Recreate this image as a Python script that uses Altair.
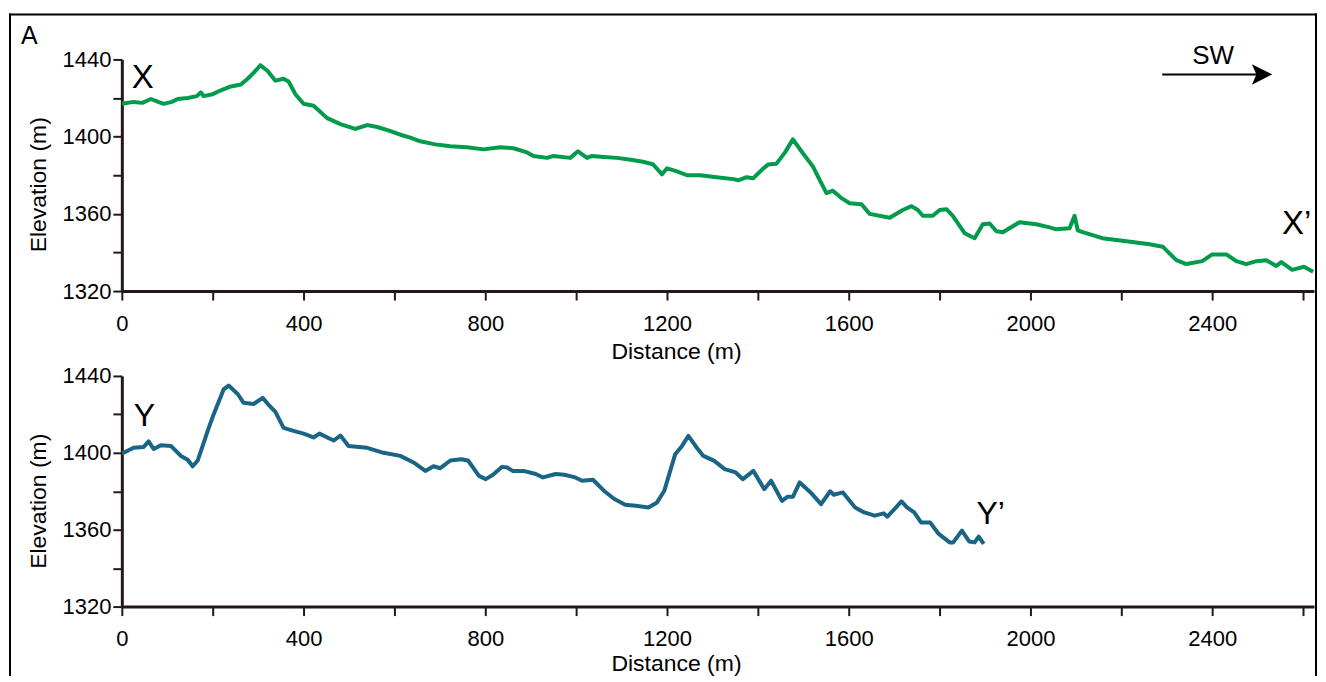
import altair as alt
import pandas as pd

# ---------------- data ----------------
x_dist = [0, 26, 45, 64, 80, 92, 110, 123, 145, 165, 174, 180, 200, 218, 240, 262, 277, 290,
          305, 321, 338, 356, 367, 382, 400, 422, 452, 481, 514, 540, 562, 590, 613, 635, 657,
          690, 723, 760, 796, 833, 862, 890, 906, 936, 950, 987, 1004, 1024, 1035, 1060, 1090,
          1120, 1147, 1169, 1189, 1200, 1222, 1244, 1273, 1309, 1346, 1357, 1375, 1390, 1412,
          1423, 1441, 1460, 1477, 1499, 1521, 1535, 1551, 1565, 1585, 1602, 1628, 1646, 1690,
          1719, 1738, 1752, 1763, 1785, 1800, 1815, 1829, 1855, 1877, 1895, 1910, 1925, 1939,
          1976, 2013, 2042, 2057, 2086, 2097, 2104, 2115, 2158, 2211, 2262, 2291, 2321, 2343,
          2378, 2400, 2431, 2453, 2475, 2497, 2519, 2541, 2552, 2576, 2602, 2622]
x_elev = [1417, 1418, 1417.5, 1419.5, 1418, 1417, 1418, 1419.5, 1420, 1421, 1423, 1421, 1422,
          1424, 1426, 1427, 1430, 1433, 1437, 1434, 1429, 1430, 1428.6, 1422, 1417, 1416, 1409.6,
          1406.5, 1404, 1406, 1405, 1403, 1401, 1399.5, 1397.6, 1396, 1395, 1394.5, 1393.4,
          1394.5, 1394, 1392, 1390, 1389, 1390, 1389, 1392.4, 1389, 1390, 1389.5, 1389, 1388,
          1387, 1385.7, 1380.5, 1383.6, 1382, 1380, 1380, 1379, 1378, 1377.4, 1379, 1378.5,
          1383.6, 1385.6, 1386, 1392, 1398.6, 1391.4, 1384.6, 1378, 1370.7, 1372, 1368, 1365.5,
          1365, 1360, 1358, 1362, 1364, 1362, 1359, 1359, 1362, 1362.4, 1359, 1350, 1347.4,
          1354.6, 1355, 1351, 1350.5, 1355.7, 1354.6, 1353, 1352, 1352.6, 1359, 1351.5, 1350.5,
          1347.4, 1345.8, 1344.3, 1343, 1336, 1334, 1335.5, 1339, 1339, 1335.5, 1334, 1335.5,
          1336, 1333, 1335, 1331, 1332.6, 1330]

y_dist = [0, 4, 26, 48, 59, 70, 86, 108, 130, 145, 156, 167, 189, 202, 224, 235, 255, 268, 290,
          310, 321, 338, 356, 378, 400, 422, 435, 466, 481, 499, 540, 576, 613, 642, 668, 686,
          701, 723, 747, 762, 786, 801, 817, 837, 848, 860, 884, 911, 927, 955, 974, 998, 1013,
          1037, 1061, 1084, 1108, 1131, 1159, 1178, 1194, 1218, 1233, 1247, 1265, 1280, 1304,
          1327, 1351, 1367, 1390, 1414, 1429, 1453, 1465, 1477, 1492, 1516, 1539, 1559, 1567,
          1587, 1614, 1634, 1657, 1677, 1685, 1704, 1716, 1728, 1744, 1759, 1779, 1798, 1822,
          1830, 1849, 1865, 1877, 1886, 1897]
y_elev = [1400, 1400, 1402.6, 1403, 1406, 1402, 1404, 1403.6, 1398.4, 1396.4, 1393, 1396, 1411.4,
          1420, 1433, 1435, 1430.6, 1426, 1425.4, 1428.6, 1425.5, 1421.3, 1413, 1411.4, 1410,
          1408, 1410, 1406.4, 1409, 1403.6, 1402.6, 1400, 1398.4, 1395, 1390.6, 1393, 1392, 1396,
          1396.7, 1396, 1388, 1386.3, 1388.6, 1392.7, 1392.4, 1390.6, 1390.6, 1389, 1387.2, 1389,
          1388.6, 1387.2, 1385.5, 1386, 1380.3, 1376, 1373, 1372.5, 1371.6, 1374.2, 1380.3,
          1399.3, 1403.6, 1408.8, 1402.8, 1398.4, 1395.8, 1391.5, 1389.8, 1386.3, 1390.6, 1381.1,
          1385.5, 1375, 1377.1, 1377.1, 1384.6, 1379.4, 1373.3, 1380, 1378.2, 1379.4, 1371.6,
          1369, 1367.3, 1368.5, 1366.8, 1371.6, 1374.7, 1371.6, 1369, 1363.8, 1363.8, 1357.8,
          1353.4, 1353.4, 1359.5, 1353.9, 1353.4, 1356.4, 1352.6]

x_ticks = [0, 200, 400, 600, 800, 1000, 1200, 1400, 1600, 1800, 2000, 2200, 2400, 2600]
y_ticks = [1320, 1340, 1360, 1380, 1400, 1420, 1440]
x_domain = [0, 2624]
y_domain = [1320, 1440]

# ---------------- styles ----------------
FONT = "Liberation Sans"
AXIS_COLOR = "#231815"
GREEN = "#009b4b"
BLUE = "#1a6485"
W = 1194


def x_enc(title_y):
    return alt.X(
        "distance:Q",
        scale=alt.Scale(domain=x_domain, nice=False, zero=False),
        axis=alt.Axis(
            values=x_ticks, format="d",
            labelExpr="datum.value % 400 === 0 ? datum.label : ''",
            title="Distance (m)", titleX=555, titleY=title_y,
            titleBaseline="middle", titleAlign="center",
            labelPadding=13,
        ),
    )


def y_enc():
    return alt.Y(
        "elevation:Q",
        scale=alt.Scale(domain=y_domain, nice=False, zero=False),
        axis=alt.Axis(
            values=y_ticks, format="d",
            labelExpr="datum.value % 40 === 0 ? datum.label : ''",
            title="Elevation (m)", titleX=-83, titleY=125,
            titleBaseline="middle", titleAlign="center", titleAngle=270,
            labelPadding=2,
        ),
    )


one = alt.Data(values=[{}])


def label(text, x, y, size):
    return alt.Chart(one).mark_text(
        text=text, font=FONT, fontSize=size, align="left", baseline="alphabetic", color="black"
    ).encode(x=alt.value(x), y=alt.value(y))


df_x = pd.DataFrame({"distance": x_dist, "elevation": x_elev})
df_y = pd.DataFrame({"distance": y_dist, "elevation": y_elev})

line_x = alt.Chart(df_x).mark_line(color=GREEN, strokeWidth=4, strokeJoin="round").encode(
    x=x_enc(61), y=y_enc()
)
line_y = alt.Chart(df_y).mark_line(color=BLUE, strokeWidth=4, strokeJoin="round").encode(
    x=x_enc(57), y=y_enc()
)

frame_left = alt.Chart(one).mark_rule(color="black", strokeWidth=2).encode(
    x=alt.value(-112), y=alt.value(-46), y2=alt.value(632))
frame_right = alt.Chart(one).mark_rule(color="black", strokeWidth=2).encode(
    x=alt.value(1196), y=alt.value(-46), y2=alt.value(632))
frame_top = alt.Chart(one).mark_rule(color="black", strokeWidth=2).encode(
    x=alt.value(-113), x2=alt.value(1197), y=alt.value(-45))

arrow_line = alt.Chart(one).mark_rule(color="black", strokeWidth=2).encode(
    x=alt.value(1042), x2=alt.value(1142), y=alt.value(15))
arrow_head = alt.Chart(one).mark_point(
    shape="M -1 -1 L 1 0 L -1 1 L -0.55 0 Z", filled=True, size=420, color="black", opacity=1
).encode(x=alt.value(1142), y=alt.value(15))

top = alt.layer(
    frame_left, frame_right, frame_top,
    line_x,
    label("A", -101, -15, 25),
    label("X", 10, 29, 33),
    label("X\u2019", 1162, 175, 33),
    label("SW", 1072, 5, 26),
    arrow_line, arrow_head,
).properties(width=W, height=232)

bottom = alt.layer(
    line_y,
    label("Y", 12, 50, 32),
    label("Y\u2019", 856, 148, 32),
).properties(width=W, height=231)

chart = alt.vconcat(top, bottom, spacing=85, bounds="flush").properties(
    autosize=alt.AutoSizeParams(type="pad"),
    padding={"left": 0, "top": 4, "right": 0, "bottom": -16},
).configure_view(strokeWidth=0).configure_axis(
    grid=False,
    domainColor=AXIS_COLOR, domainWidth=3,
    tickColor=AXIS_COLOR, tickWidth=2, tickSize=9,
    labelFont=FONT, labelFontSize=22, labelColor="black",
    labelFlush=False, labelOverlap=False,
    titleFont=FONT, titleFontSize=23, titleFontWeight="normal", titleColor="black",
)

chart.save("out.html", embed_options={"renderer": "svg", "actions": False})
